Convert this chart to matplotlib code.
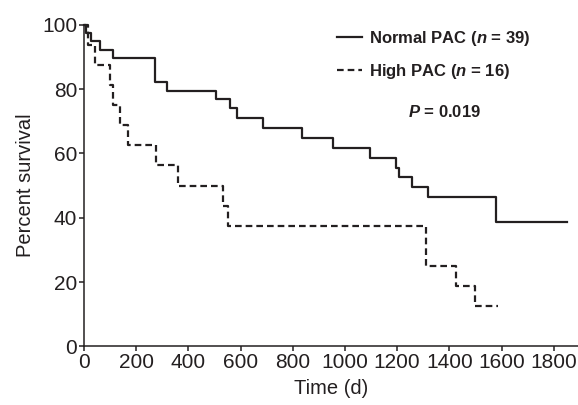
import matplotlib
matplotlib.use("Agg")
import matplotlib.pyplot as plt

# Kaplan-Meier steps
normal_t = [0, 8, 25, 61, 112, 272, 317, 507, 558, 585, 687, 834, 953,
            1096, 1194, 1207, 1255, 1317, 1577, 1850]
normal_s = [100, 97.4, 94.9, 92.3, 89.7, 82.1, 79.5, 76.9, 74.0, 71.0, 67.9,
            64.8, 61.6, 58.7, 55.6, 52.6, 49.5, 46.4, 38.6, 38.6]

high_t = [0, 15, 42, 100, 112, 138, 170, 276, 361, 531, 550, 1309, 1425,
          1498, 1586]
high_s = [100, 93.75, 87.5, 81.25, 75, 68.75, 62.5, 56.25, 50, 43.75, 37.5,
          25, 18.75, 12.5, 12.5]

x_ticks = [0, 200, 400, 600, 800, 1000, 1200, 1400, 1600, 1800]
y_ticks = [0, 20, 40, 60, 80, 100]

ink = "#231f20"
plt.rcParams["font.family"] = ["Liberation Sans", "DejaVu Sans"]
plt.rcParams["mathtext.fontset"] = "custom"
plt.rcParams["mathtext.rm"] = "Liberation Sans:bold"
plt.rcParams["mathtext.it"] = "Liberation Sans:italic:bold"

fig = plt.figure(figsize=(5.78, 4.05), dpi=100)
ax = fig.add_axes([84 / 578, 1 - 346.3 / 405, 1 - 84 / 578, (346.3 - 24.8) / 405])

ax.step(normal_t, normal_s, where="post", color=ink, lw=1.6,
        label="Normal PAC ($n$ = 39)", clip_on=False)
ax.step(high_t, high_s, where="post", color=ink, lw=1.6,
        linestyle=(0, (3, 1.8)), label="High PAC ($n$ = 16)", clip_on=False)

ax.set_xlim(0, 1893)
ax.set_ylim(0, 100)
ax.set_xticks(x_ticks)
ax.set_yticks(y_ticks)
for s in ["top", "right"]:
    ax.spines[s].set_visible(False)
for s in ["left", "bottom"]:
    ax.spines[s].set_linewidth(1.1)
    ax.spines[s].set_color(ink)
ax.tick_params(direction="out", length=3.5, width=1.1, color=ink,
               labelsize=15, labelcolor=ink, pad=1.5)

ax.set_xlabel("Time (d)", fontsize=14.5, color=ink, labelpad=5)
ax.set_ylabel("Percent survival", fontsize=14.5, color=ink, labelpad=5)

leg = ax.legend(loc="upper left", bbox_to_anchor=(337 / 578, 1 - 29 / 405),
                bbox_transform=fig.transFigure, frameon=False,
                handlelength=1.5, handletextpad=0.4, labelspacing=0.85,
                borderpad=0, borderaxespad=0,
                prop={"size": 12, "weight": "bold"})
for t in leg.get_texts():
    t.set_color(ink)

fig.text(445 / 578, 1 - 111.7 / 405, "$P$ = 0.019", ha="center", va="center",
         fontsize=12, fontweight="bold", color=ink)

fig.savefig("out.png", dpi=100)
